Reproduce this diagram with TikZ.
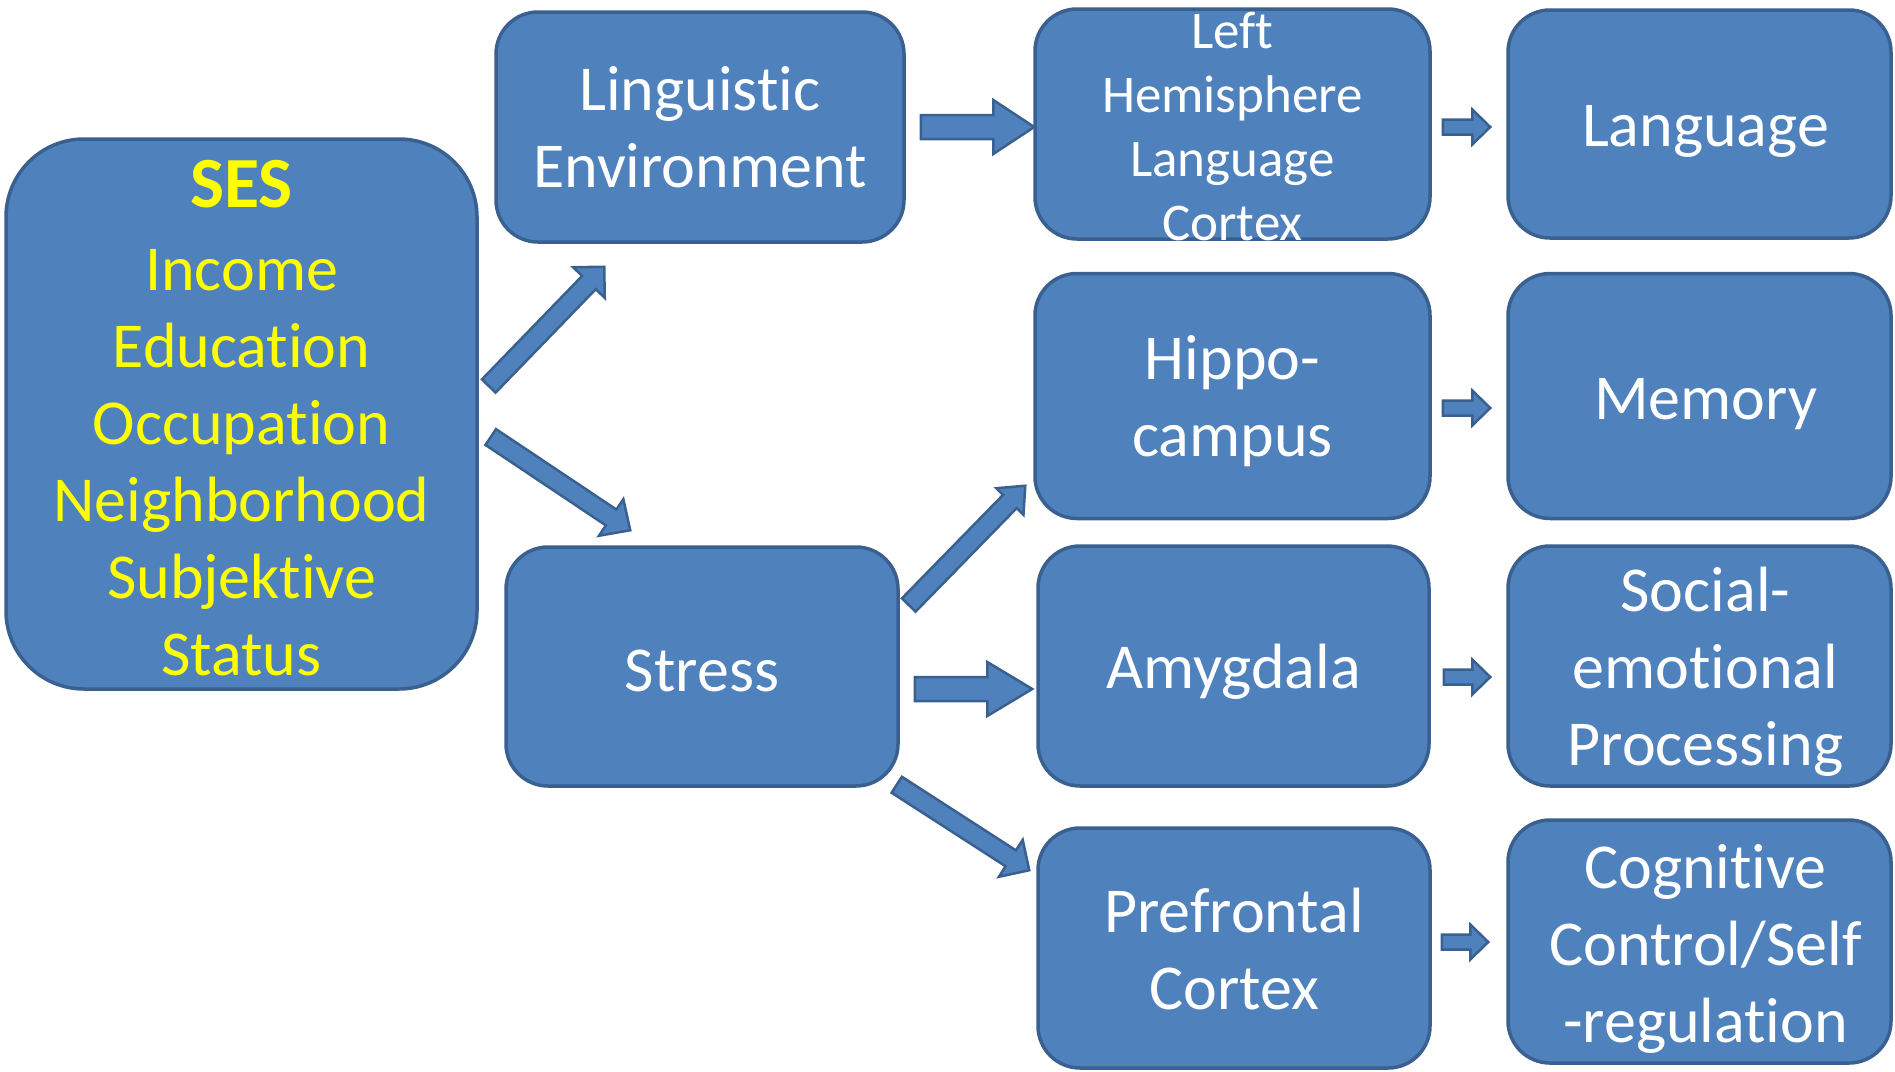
\documentclass[tikz,border=0pt]{standalone}
\usepackage{fontspec}
\setmainfont{Carlito}[Ligatures=NoCommon]
\usetikzlibrary{calc}
\definecolor{boxfill}{HTML}{4F81BD}
\definecolor{bdr}{HTML}{3A6090}
\definecolor{sesyellow}{HTML}{FFFF00}
\tikzset{
  box/.style={draw=bdr, fill=boxfill, line width=3.5pt, rounded corners=42pt, inner sep=0pt},
  boxtext/.style={text=white, align=center, inner sep=0pt, font=\fontsize{64}{77}\selectfont},
  barrowstyle/.style={draw=bdr, fill=boxfill, line width=2.5pt, line join=miter}
}
\newcommand\blockarrow[5]{%
  \coordinate (ba-h) at ($(#2)!#5!(#1)$);
  \path[barrowstyle] ($(#1)!#3!90:(#2)$) -- ($(ba-h)!#3!-90:(#1)$) -- ($(ba-h)!#4!-90:(#1)$)
    -- (#2) -- ($(ba-h)!#4!90:(#1)$) -- ($(ba-h)!#3!90:(#1)$) -- ($(#1)!#3!-90:(#2)$) -- cycle;
}
\begin{document}
\begin{tikzpicture}[x=1pt,y=-1pt]
\useasboundingbox (0,0) rectangle (1895,1071);
% boxes
\node[box, rounded corners=78pt, minimum width=471pt, minimum height=550pt,
  label={[boxtext, text=sesyellow, font=\fontsize{64}{77}\selectfont, yshift=-4pt]center:{\fontsize{72}{77}\selectfont\textbf{SES}}\\[6pt]Income\\Education\\Occupation\\Neighborhood\\Subjektive\\Status}] (ses) at (241.5,414) {};
\node[box, minimum width=408pt, minimum height=230pt,
  label={[boxtext]center:Linguistic\\Environment}] (ling) at (700,127) {};
\node[box, minimum width=395pt, minimum height=230pt,
  label={[boxtext, font=\fontsize{53}{64}\selectfont, yshift=-3pt]center:Left\\Hemisphere\\Language\\Cortex}] (lh) at (1232.5,124) {};
\node[box, minimum width=383pt, minimum height=228pt,
  label={[boxtext, xshift=6pt, yshift=-7pt]center:Language}] (lang) at (1699.5,124) {};
\node[box, minimum width=395pt, minimum height=245pt,
  label={[boxtext, yshift=-5pt]center:Hippo-\\campus}] (hip) at (1232.5,396) {};
\node[box, minimum width=383pt, minimum height=245pt,
  label={[boxtext, xshift=6pt, yshift=-8pt]center:Memory}] (mem) at (1699.5,396) {};
\node[box, minimum width=392pt, minimum height=239pt,
  label={[boxtext, yshift=-4pt]center:Stress}] (stress) at (702,666.5) {};
\node[box, minimum width=391pt, minimum height=240pt,
  label={[boxtext, yshift=-6pt]center:Amygdala}] (amy) at (1233.5,666) {};
\node[box, minimum width=383pt, minimum height=240pt,
  label={[boxtext, xshift=6pt, yshift=-6pt]center:Social-\\emotional\\Processing}] (soc) at (1699.5,666) {};
\node[box, minimum width=392pt, minimum height=240pt,
  label={[boxtext, yshift=-1pt]center:Prefrontal\\Cortex}] (pf) at (1234,948) {};
\node[box, minimum width=383pt, minimum height=243pt,
  label={[boxtext, xshift=6pt, yshift=-7pt]center:Cognitive\\Control/Self\\-regulation}] (cog) at (1699.5,941.5) {};
% arrow end points
\coordinate (a1s) at ($(ses.east)+(10,-28)$);
\coordinate (a1e) at ($(ling.south west)+(110,23)$);
\coordinate (a2s) at ($(ses.east)+(12,23)$);
\coordinate (a2e) at ($(stress.north west)+(126,-15)$);
\coordinate (a3s) at ($(stress.east)+(9,-61.5)$);
\coordinate (a3e) at ($(hip.south west)+(-8,-34.5)$);
\coordinate (a4s) at ($(stress.south east)+(-3,-3)$);
\coordinate (a4e) at ($(pf.north west)+(-7,44)$);
\coordinate (a5s) at ($(ling.east)+(15,0)$);
\coordinate (a5e) at ($(lh.west)+(1,3)$);
\coordinate (a6s) at ($(stress.east)+(15,22.5)$);
\coordinate (a6e) at ($(amy.west)+(-4,23)$);
\coordinate (a7s) at ($(lh.east)+(11,3)$);
\coordinate (a7e) at ($(lang.west)+(-16,3)$);
\coordinate (a8s) at ($(hip.east)+(11,12)$);
\coordinate (a8e) at ($(mem.west)+(-16,12)$);
\coordinate (a9s) at ($(amy.east)+(13,11)$);
\coordinate (a9e) at ($(soc.west)+(-16,11)$);
\coordinate (a10s) at ($(pf.east)+(10,-6)$);
\coordinate (a10e) at ($(cog.west)+(-18,0.5)$);
% arrows
\blockarrow{a1s}{a1e}{9.5pt}{22pt}{22pt}
\blockarrow{a2s}{a2e}{9.5pt}{22pt}{23pt}
\blockarrow{a3s}{a3e}{9.5pt}{19pt}{22pt}
\blockarrow{a4s}{a4e}{9.5pt}{22pt}{22pt}
\blockarrow{a5s}{a5e}{12pt}{27pt}{41pt}
\blockarrow{a6s}{a6e}{12pt}{27pt}{45pt}
\blockarrow{a7s}{a7e}{7.5pt}{17.5pt}{18pt}
\blockarrow{a8s}{a8e}{7.5pt}{17.5pt}{18pt}
\blockarrow{a9s}{a9e}{7.5pt}{17.5pt}{18pt}
\blockarrow{a10s}{a10e}{7.5pt}{17.5pt}{18pt}
\end{tikzpicture}
\end{document}
